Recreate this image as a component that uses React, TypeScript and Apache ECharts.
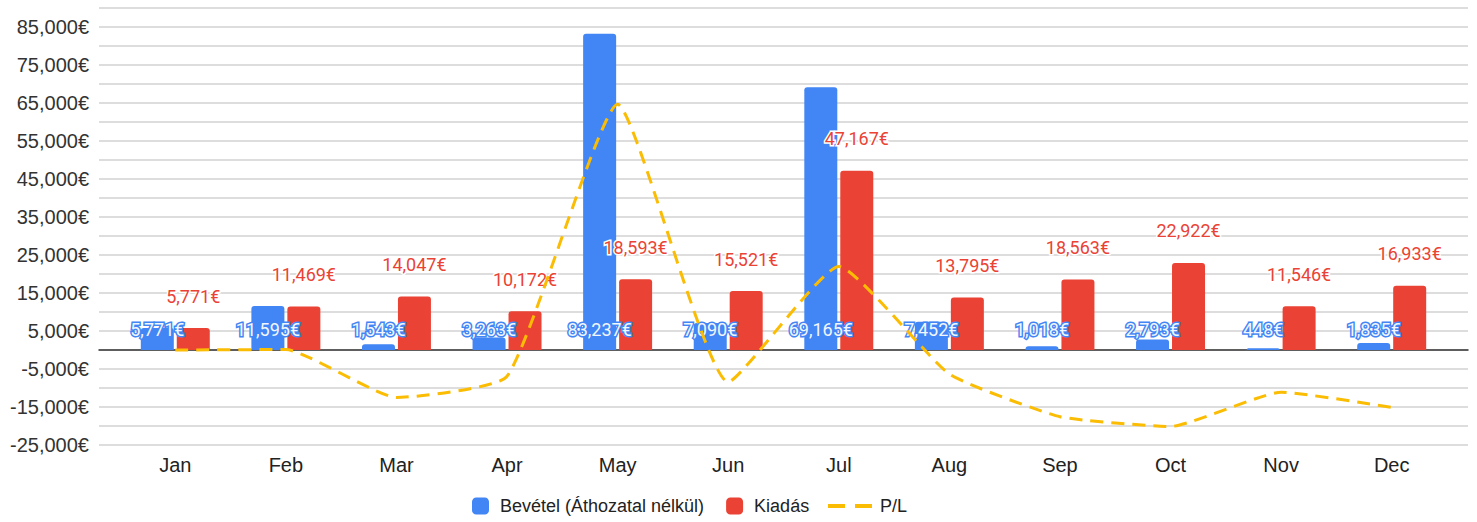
import React, { useEffect, useRef } from "react";
import * as echarts from "echarts";

const categories = ["Jan", "Feb", "Mar", "Apr", "May", "Jun", "Jul", "Aug", "Sep", "Oct", "Nov", "Dec"];
const revenue = [5771, 11595, 1543, 3263, 83237, 7090, 69165, 7452, 1018, 2793, 448, 1835];
const expenses = [5771, 11469, 14047, 10172, 18593, 15521, 47167, 13795, 18563, 22922, 11546, 16933];
const profitLoss = [0, 126, -12504, -6909, 64644, -8431, 21998, -6343, -17545, -20129, -11098, -15098];
const yTickLabels = [85000, 75000, 65000, 55000, 45000, 35000, 25000, 15000, 5000, -5000, -15000, -25000];

const seriesNames = ["Bevétel (Áthozatal nélkül)", "Kiadás", "P/L"];

const BLUE = "#4285F4";
const RED = "#EA4335";
const YELLOW = "#FBBC04";

const fmtEuro = (v: number) => v.toLocaleString("en-US") + "€";

export default function App() {
  const ref = useRef<HTMLDivElement>(null);

  useEffect(() => {
    if (!ref.current) return;
    const chart = echarts.init(ref.current, undefined, { renderer: "svg" });
    const axisFont = "'Liberation Sans', Arial, Helvetica, sans-serif";
    const labelFont = "Roboto, 'Noto Sans', sans-serif";
    const option: any = {
      animation: false,
      backgroundColor: "#ffffff",
      grid: [
        { left: 99, right: 9, top: 8, bottom: 77, containLabel: false },
        { left: 120, right: 30, top: 8, bottom: 77, containLabel: false },
      ],
      xAxis: [
        {
          type: "value",
          gridIndex: 0,
          min: 0,
          max: 1,
          axisLine: { show: true, onZero: true, lineStyle: { color: "#333333", width: 1.5 } },
          axisTick: { show: false },
          axisLabel: { show: false },
          splitLine: { show: false },
        },
        {
          type: "category",
          gridIndex: 1,
          data: categories,
          axisLine: { show: false },
          axisTick: { show: false },
          splitLine: { show: false },
          axisLabel: {
            margin: 10,
            color: "#222222",
            fontSize: 20,
            fontFamily: axisFont,
          },
        },
      ],
      yAxis: [
        {
          type: "value",
          gridIndex: 0,
          min: -25000,
          max: 90000,
          interval: 5000,
          axisLine: { show: false },
          axisTick: { show: false },
          splitLine: { show: true, lineStyle: { color: "#d2d2d2", width: 1.5 } },
          axisLabel: {
            margin: 10,
            color: "#333333",
            fontSize: 20,
            fontFamily: axisFont,
            formatter: (v: number) => (yTickLabels.includes(v) ? fmtEuro(v) : ""),
          },
        },
        {
          type: "value",
          gridIndex: 1,
          min: -25000,
          max: 90000,
          interval: 5000,
          show: false,
          splitLine: { show: false },
        },
      ],
      legend: [
        {
          data: [seriesNames[0], seriesNames[1]],
          left: 472,
          top: 497,
          padding: 0,
          itemWidth: 17,
          itemHeight: 17,
          itemGap: 22,
          icon: "roundRect",
          textStyle: { color: "#222222", fontSize: 18, fontFamily: axisFont, padding: [0, 0, 0, 6] },
        },
        {
          data: [
            {
              name: seriesNames[2],
              icon: "path://M0,0 H17 V4 H0 Z M27,0 H44 V4 H27 Z",
            },
          ],
          left: 828,
          top: 497,
          padding: 0,
          itemWidth: 44,
          itemHeight: 4,
          textStyle: { color: "#222222", fontSize: 18, fontFamily: axisFont, padding: [0, 0, 0, 3] },
        },
      ],
      series: [
        {
          name: seriesNames[0],
          type: "bar",
          xAxisIndex: 1,
          yAxisIndex: 1,
          data: revenue,
          barWidth: 33,
          barGap: "9%",
          itemStyle: { color: BLUE, borderRadius: [3, 3, 0, 0] },
          label: {
            show: true,
            position: "insideBottom",
            distance: 12,
            formatter: (p: any) => fmtEuro(p.value),
            color: "#f2f6fe",
            textBorderColor: BLUE,
            textBorderWidth: 3,
            fontSize: 18,
            fontFamily: labelFont,
          },
          z: 2,
        },
        {
          name: seriesNames[1],
          type: "bar",
          xAxisIndex: 1,
          yAxisIndex: 1,
          data: expenses,
          barWidth: 33,
          itemStyle: { color: RED, borderRadius: [3, 3, 0, 0] },
          label: {
            show: true,
            position: "top",
            distance: 23,
            formatter: (p: any) => fmtEuro(p.value),
            color: RED,
            textBorderColor: "#ffffff",
            textBorderWidth: 3,
            fontSize: 18,
            fontFamily: labelFont,
          },
          z: 2,
        },
        {
          name: seriesNames[2],
          type: "line",
          xAxisIndex: 1,
          yAxisIndex: 1,
          data: profitLoss,
          smooth: 0.15,
          symbol: "none",
          lineStyle: { color: YELLOW, width: 3, type: [13, 8] },
          itemStyle: { color: YELLOW },
          z: 5,
        },
      ],
    };
    chart.setOption(option);
    return () => chart.dispose();
  }, []);

  return (
    <div
      ref={ref}
      style={{ position: "fixed", left: 0, top: 0, width: 1477, height: 522, background: "#fff" }}
    />
  );
}
